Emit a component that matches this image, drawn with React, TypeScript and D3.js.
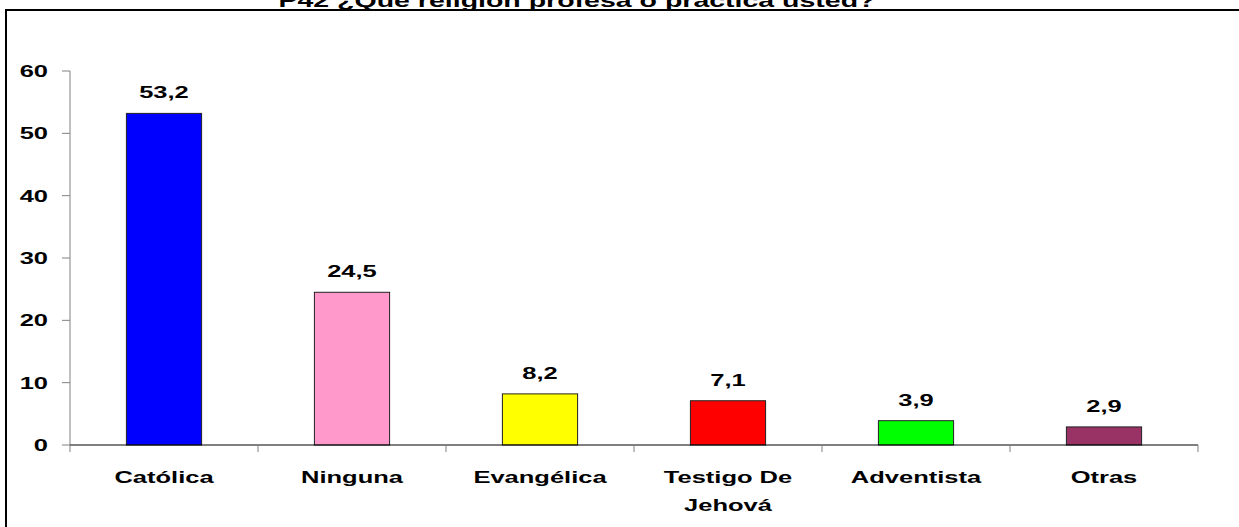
import * as d3 from 'd3'
import React from 'react'

const categories = ['Católica', 'Ninguna', 'Evangélica', 'Testigo De Jehová', 'Adventista', 'Otras']
const labelLines = [['Católica'], ['Ninguna'], ['Evangélica'], ['Testigo De', 'Jehová'], ['Adventista'], ['Otras']]
const values = [53.2, 24.5, 8.2, 7.1, 3.9, 2.9]
const colors = ['#0000ff', '#ff99cc', '#ffff00', '#ff0000', '#00ff00', '#993366']
const yTicks = [0, 10, 20, 30, 40, 50, 60]
const title = 'P42 ¿Qué religión profesa o practica usted?'

const W = 1239
const H = 527
const plot = { left: 70, right: 1198, top: 71, bottom: 445 }
const font = '"Liberation Sans", Arial, sans-serif'
// the reference text is stretched sideways
const SX = 1.5

const Label = ({ x, y, anchor = 'middle', size = 17, children }: any) => (
  <text
    transform={`translate(${x},${y}) scale(${SX},1)`}
    textAnchor={anchor}
    fontSize={size}
    fontWeight="bold"
  >
    {children}
  </text>
)

const App = () => {
  const x = d3.scaleBand<string>().domain(categories).range([plot.left, plot.right]).paddingInner(0.6).paddingOuter(0.3)
  const xTick = d3.scaleBand<string>().domain(categories).range([plot.left, plot.right])
  const y = d3.scaleLinear().domain([0, 60]).range([plot.bottom, plot.top])
  const fmt = (v: number) => v.toFixed(1).replace('.', ',')

  return (
    <svg width={W} height={H} style={{ position: 'absolute', left: 0, top: 0, background: '#fff' }} fontFamily={font}>
      <rect x={6} y={10} width={W + 20} height={H + 20} fill="#fff" stroke="#000" strokeWidth={2} />
      <Label x={577} y={7} size={19}>
        {title}
      </Label>

      {/* y axis */}
      <line x1={plot.left} x2={plot.left} y1={plot.top} y2={plot.bottom} stroke="#808080" />
      {yTicks.map((t) => (
        <g key={t}>
          <line x1={plot.left - 8} x2={plot.left} y1={y(t)} y2={y(t)} stroke="#808080" />
          <Label x={48} y={y(t) + 6} anchor="end">
            {t}
          </Label>
        </g>
      ))}

      {/* bars */}
      {categories.map((c, i) => (
        <g key={c}>
          <rect
            x={x(c)}
            y={y(values[i])}
            width={x.bandwidth()}
            height={y(0) - y(values[i])}
            fill={colors[i]}
            stroke="#222"
            strokeWidth={1}
          />
          <Label x={(x(c) as number) + x.bandwidth() / 2} y={y(values[i]) - 15}>
            {fmt(values[i])}
          </Label>
        </g>
      ))}

      {/* x axis */}
      <line x1={plot.left} x2={plot.right} y1={plot.bottom} y2={plot.bottom} stroke="#000" />
      {[...categories.map((c) => xTick(c) as number), plot.right].map((tx, i) => (
        <line key={i} x1={tx} x2={tx} y1={plot.bottom} y2={plot.bottom + 7} stroke="#808080" />
      ))}
      {categories.map((c, i) =>
        labelLines[i].map((l, j) => (
          <Label key={c + j} x={(xTick(c) as number) + xTick.bandwidth() / 2} y={483 + j * 28}>
            {l}
          </Label>
        ))
      )}
    </svg>
  )
}

export default App
